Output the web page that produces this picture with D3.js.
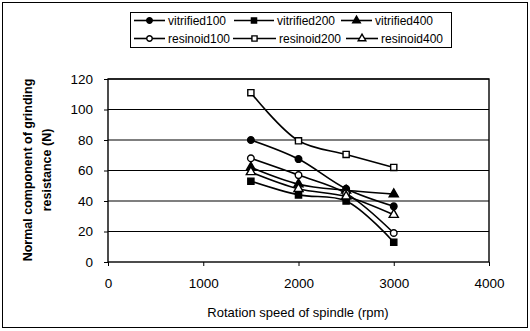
<!DOCTYPE html>
<html><head><meta charset="utf-8">
<script src="https://cdn.jsdelivr.net/npm/d3@7"></script>
<style>body{margin:0;background:#fff}svg{display:block;font-family:"Liberation Sans",Arial,sans-serif}</style>
</head><body><svg id="c" width="530" height="331"></svg>
<script>
const speeds = [1500, 2000, 2500, 3000];
const vitrified100 = [80, 67.5, 48, 36.5];
const vitrified200 = [53, 44, 40, 13];
const vitrified400 = [62, 51, 47, 44.5];
const resinoid100 = [68, 57, 45, 19];
const resinoid200 = [111, 79.5, 70.5, 62];
const resinoid400 = [59, 48, 43, 31];
const seriesNames = ["vitrified100","vitrified200","vitrified400","resinoid100","resinoid200","resinoid400"];
const seriesValues = [vitrified100, vitrified200, vitrified400, resinoid100, resinoid200, resinoid400];
const markerShapes = ["circle","square","triangle","circle","square","triangle"];
const markerFilled = [true,true,true,false,false,false];
const xTicks = [0,1000,2000,3000,4000];
const yTicks = [0,20,40,60,80,100,120];

const svg = d3.select("#c");
const plot = {l:108, r:489, t:79, b:262};
const x = d3.scaleLinear().domain([0,4000]).range([plot.l, plot.r]);
const y = d3.scaleLinear().domain([0,120]).range([plot.b, plot.t]);

// outer frame
svg.append("rect").attr("x",2.5).attr("y",2.5).attr("width",525).attr("height",325)
  .attr("fill","none").attr("stroke","#000").attr("stroke-width",1);

// gridlines
svg.append("g").selectAll("line").data(yTicks.slice(1)).join("line")
  .attr("x1",plot.l).attr("x2",plot.r).attr("y1",d=>y(d)).attr("y2",d=>y(d))
  .attr("stroke","#000").attr("stroke-width",1.2);
svg.append("rect").attr("x",plot.l).attr("y",plot.t).attr("width",plot.r-plot.l).attr("height",plot.b-plot.t)
  .attr("fill","none").attr("stroke","#000").attr("stroke-width",1.4);

// axes
const ax = svg.append("g").attr("transform",`translate(0,${plot.b})`)
  .call(d3.axisBottom(x).tickValues(xTicks).tickFormat(d3.format("d")).tickSize(4).tickPadding(12));
const ay = svg.append("g").attr("transform",`translate(${plot.l},0)`)
  .call(d3.axisLeft(y).tickValues(yTicks).tickSize(4).tickPadding(11));
[ax,ay].forEach(g=>{g.select(".domain").remove();
  g.selectAll("text").attr("font-size",13.5).attr("fill","#000").attr("font-family","'Liberation Sans',Arial,sans-serif");
  g.selectAll("line").attr("stroke","#000");});

// axis titles
svg.append("text").attr("x",298).attr("y",317).attr("text-anchor","middle").attr("font-size",13)
  .text("Rotation speed of spindle (rpm)");
const yt = svg.append("text").attr("transform","translate(0,170) rotate(-90)").attr("text-anchor","middle")
  .attr("font-size",12.5).attr("font-weight","bold");
yt.append("tspan").attr("x",0).attr("y",32).text("Normal component of grinding");
yt.append("tspan").attr("x",0).attr("y",51).text("resistance (N)");

const sym = {circle:d3.symbolCircle, square:d3.symbolSquare, triangle:d3.symbolTriangle};
function marker(g, i, cx, cy, k){
  const base = markerShapes[i]==="triangle"?36:markerShapes[i]==="square"?38:34;
  g.append("path").attr("d", d3.symbol(sym[markerShapes[i]], base*k)())
   .attr("transform",`translate(${cx},${cy})`)
   .attr("fill", markerFilled[i] ? "#000" : "#fff").attr("stroke","#000").attr("stroke-width",1.4);
}

const line = d3.line().x((d,i)=>x(speeds[i])).y(d=>y(d)).curve(d3.curveCatmullRom.alpha(0.5));
const lines = svg.append("g");
seriesValues.forEach((vals,i)=>{
  lines.append("path").attr("d",line(vals)).attr("fill","none").attr("stroke","#000").attr("stroke-width",1.6);
});
const marks = svg.append("g");
seriesValues.forEach((vals,i)=>{ vals.forEach((v,j)=>marker(marks,i,x(speeds[j]),y(v),1)); });

// legend
const lg = svg.append("g");
lg.append("rect").attr("x",130.5).attr("y",12.5).attr("width",321).attr("height",35).attr("fill","#fff").attr("stroke","#000");
const legLineX = [134, 234, 341, 134, 233, 346];
const legTextX = [168, 277, 375, 168, 279, 381];
const rowY = [20.5, 38.5];
seriesNames.forEach((n,i)=>{
  const cx = legLineX[i], cy = rowY[Math.floor(i/3)];
  const ex = legTextX[i]-3;
  lg.append("line").attr("x1",cx).attr("x2",ex).attr("y1",cy).attr("y2",cy).attr("stroke","#000").attr("stroke-width",1.6);
  marker(lg,i,(cx+ex)/2,cy,0.7);
  lg.append("text").attr("x",legTextX[i]).attr("y",cy+4.5).attr("font-size",12).text(n);
});
</script></body></html>
